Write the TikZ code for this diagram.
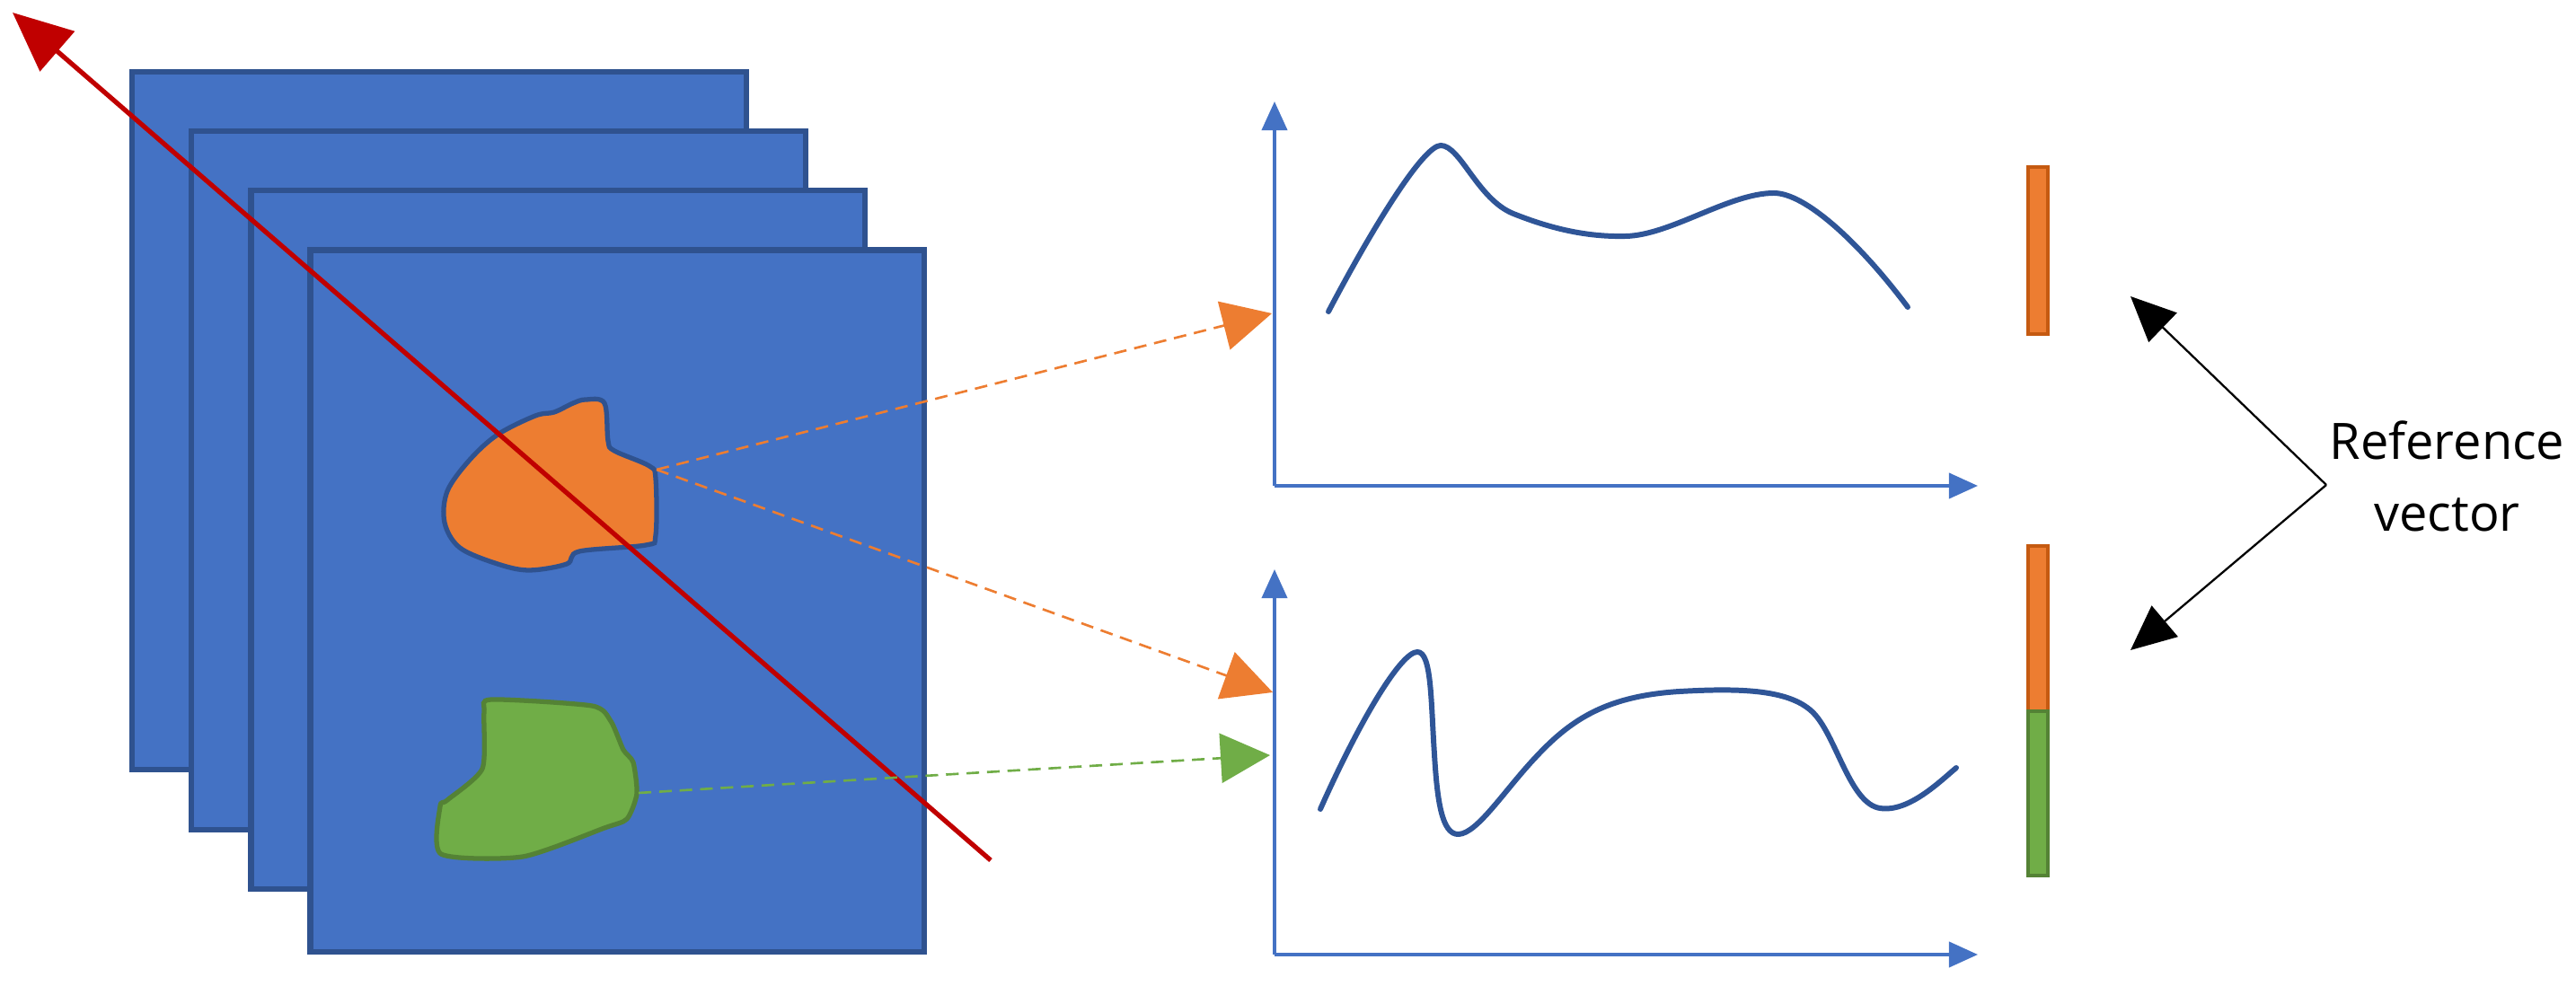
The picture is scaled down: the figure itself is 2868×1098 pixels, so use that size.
\documentclass[tikz,border=0pt]{standalone}
\usepackage{fontspec}
\setmainfont{Open Sans}
\usetikzlibrary{arrows.meta}
\definecolor{pfill}{HTML}{4472C4}
\definecolor{pdraw}{HTML}{2F528F}
\definecolor{ofill}{HTML}{ED7D31}
\definecolor{odraw}{HTML}{C55A11}
\definecolor{gfill}{HTML}{70AD47}
\definecolor{gdraw}{HTML}{548235}
\definecolor{curvec}{HTML}{2F5597}
\definecolor{redc}{HTML}{C00000}
\tikzset{
  panel/.style={fill=pfill,draw=pdraw,line width=1.9pt},
  axis/.style={draw=pfill,line width=1.1pt,-{Triangle[length=0.32cm,width=0.28cm]}},
  sig/.style={draw=curvec,line width=1.7pt,line cap=round},
  odash/.style={draw=ofill,line width=0.75pt,dash pattern=on 4pt off 2.5pt,-{Triangle[length=0.55cm,width=0.55cm]}},
  gdash/.style={draw=gfill,line width=0.75pt,dash pattern=on 4pt off 2.5pt,-{Triangle[length=0.55cm,width=0.55cm]}},
  pointer/.style={draw=black,line width=0.65pt,-{Triangle[length=0.5cm,width=0.45cm]}},
}
\begin{document}
\begin{tikzpicture}[x=0.01cm,y=-0.01cm]
\useasboundingbox (0,0) rectangle (2868,1098);
% stacked frames
\path[panel] (147,80) rectangle (831,857);
\path[panel] (213,146) rectangle (897,924);
\path[panel] (279.5,212) rectangle (963,990);
\path[panel] (345.5,278.5) rectangle (1029,1060);
% orange blob
\draw[fill=ofill,draw=pdraw,line width=1.5pt] plot[smooth cycle,tension=0.55] coordinates {
 (652,445) (673,449) (677,491) (684,502) (723,519) (730,533) (730,596) (719,607)
 (645,614) (631,628) (589,635) (554,628) (512,610) (495,582) (498,547) (523,512)
 (554,484) (596,463) (617,459) (638,449)};
% green blob
\draw[fill=gfill,draw=gdraw,line width=1.5pt] plot[smooth cycle,tension=0.4] coordinates {
 (547,779) (659,786) (680,803) (694,835) (705,849) (709,884) (698,912) (673,922)
 (582,954) (491,951) (490,898) (498,891) (537,856) (539,793)};
% source / target points
\coordinate (os) at (731,523);
\coordinate (gs) at (711,883);
\coordinate (ot1) at (1416,349);
\coordinate (ot2) at (1417,771);
\coordinate (gt) at (1414,841);
% red arrow
\coordinate (rs) at (1103,958);
\coordinate (re) at (14,14);
\draw[redc,line width=1.5pt,-{Triangle[length=0.66cm,width=0.58cm]}] (rs) -- (re);
% dashed links
\draw[odash] (os) -- (ot1);
\draw[odash] (os) -- (ot2);
\draw[gdash] (gs) -- (gt);
% chart 1
\coordinate (o1) at (1419,541);
\draw[axis] (o1) -- (1419,113);
\draw[axis] (o1) -- (2202,541);
\draw[sig] (1479,347) .. controls (1530,250) and (1585,162) .. (1604,162)
 .. controls (1626,162) and (1645,222) .. (1685,238)
 .. controls (1730,256) and (1770,264) .. (1810,263)
 .. controls (1860,262) and (1925,215) .. (1975,215)
 .. controls (2010,215) and (2070,270) .. (2124,342);
% chart 2
\coordinate (o2) at (1419,1063);
\draw[axis] (o2) -- (1419,634);
\draw[axis] (o2) -- (2202,1063);
\draw[sig] (1470,901) .. controls (1515,800) and (1560,726) .. (1578,726)
 .. controls (1594,726) and (1593,780) .. (1597,840)
 .. controls (1600,890) and (1605,930) .. (1624,929)
 .. controls (1645,928) and (1675,880) .. (1710,843)
 .. controls (1750,800) and (1790,775) .. (1870,770)
 .. controls (1940,766) and (1995,768) .. (2020,795)
 .. controls (2045,822) and (2060,895) .. (2093,900)
 .. controls (2125,905) and (2160,870) .. (2178,855);
% vectors
\draw[fill=ofill,draw=odraw,line width=1.4pt] (2258,186) rectangle (2280,372);
\draw[fill=ofill,draw=odraw,line width=1.4pt] (2258,608) rectangle (2280,792);
\draw[fill=gfill,draw=gdraw,line width=1.4pt] (2258,792) rectangle (2280,975);
% label and pointers
\node[font=\fontsize{15.9}{22.8}\selectfont,align=center,anchor=west,inner sep=0pt] (lbl) at (2593,530) {Reference\\vector};
\coordinate (v) at (2590,540);
\coordinate (p1) at (2372,330);
\coordinate (p2) at (2372,724);
\draw[pointer] (v) -- (p1);
\draw[pointer] (v) -- (p2);
\end{tikzpicture}
\end{document}
